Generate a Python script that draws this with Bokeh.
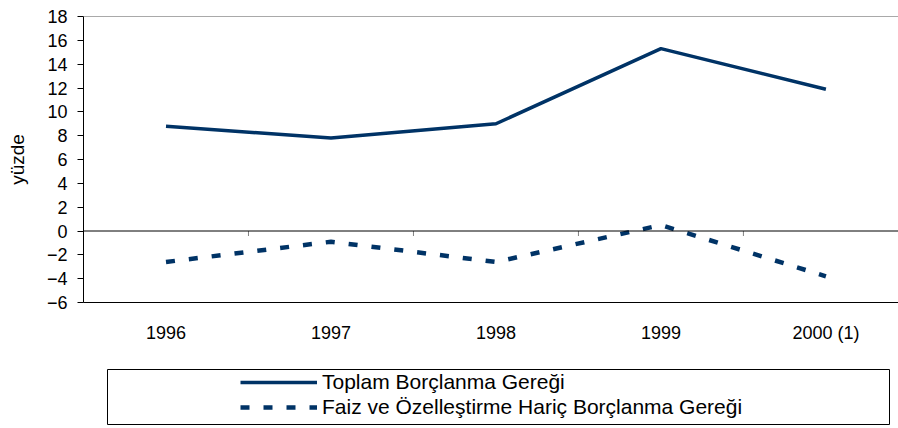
from bokeh.plotting import figure
from bokeh.models import Range1d, FixedTicker, Span, Legend, LegendItem, Spacer
from bokeh.layouts import column, row
from bokeh.embed import file_html
from bokeh.resources import INLINE

years = ["1996", "1997", "1998", "1999", "2000 (1)"]
toplam = [8.8, 7.8, 9.0, 15.3, 11.9]
faiz_haric = [-2.6, -0.9, -2.6, 0.5, -3.8]
y_ticks = [-6, -4, -2, 0, 2, 4, 6, 8, 10, 12, 14, 16, 18]
series_names = ["Toplam Borçlanma Gereği", "Faiz ve Özelleştirme Hariç Borçlanma Gereği"]

NAVY = "#003366"
FONT = "Liberation Sans"
DASH = "9 14"

xs = [i + 0.5 for i in range(len(years))]
bounds = [i for i in range(1, len(years))]

p = figure(width=898, height=369, output_backend="svg", toolbar_location=None,
           x_range=Range1d(0, 4.94), y_range=Range1d(-6, 18),
           min_border_left=83, min_border_right=0, min_border_top=16, min_border_bottom=67)
p.outline_line_color = None
p.xgrid.visible = False
p.ygrid.visible = False
p.background_fill_color = "white"
p.border_fill_color = "white"

# y axis
p.yaxis.ticker = FixedTicker(ticks=y_ticks)
p.yaxis.axis_label = "yüzde"
p.yaxis.axis_label_text_font = FONT
p.yaxis.axis_label_text_font_size = "19px"
p.yaxis.axis_label_text_font_style = "normal"
p.yaxis.axis_label_text_color = "black"
p.yaxis.axis_label_standoff = 16
p.yaxis.major_label_text_font = FONT
p.yaxis.major_label_text_font_size = "18px"
p.yaxis.major_label_text_color = "black"
p.yaxis.major_label_standoff = 10
p.yaxis.major_tick_out = 6
p.yaxis.major_tick_in = 0
p.yaxis.minor_tick_out = 0
p.yaxis.minor_tick_in = 0
p.yaxis.axis_line_color = "black"
p.yaxis.major_tick_line_color = "black"

# x axis (labels at category centres, line = bottom of plot area)
p.xaxis.ticker = FixedTicker(ticks=xs)
p.xaxis.major_label_overrides = {x: y for x, y in zip(xs, years)}
p.xaxis.major_label_text_font = FONT
p.xaxis.major_label_text_font_size = "18px"
p.xaxis.major_label_text_color = "black"
p.xaxis.major_label_standoff = 20
p.xaxis.major_tick_out = 0
p.xaxis.major_tick_in = 0
p.xaxis.minor_tick_out = 0
p.xaxis.minor_tick_in = 0
p.xaxis.axis_line_color = "black"

# top border and zero line
p.add_layout(Span(location=18, dimension="width", line_color="#555555", line_width=1))
p.add_layout(Span(location=0, dimension="width", line_color="black", line_width=1))
# category tick marks on the zero line
p.segment(x0=bounds, y0=[0] * len(bounds), x1=bounds, y1=[-0.42] * len(bounds),
          line_color="#808080", line_width=1)

p.line(xs, toplam, line_color=NAVY, line_width=3.5)
p.line(xs, faiz_haric, line_color=NAVY, line_width=4.5, line_dash=DASH)

# legend box as a separate small figure (its lines lie outside its visible range)
lg = figure(width=783, height=56, output_backend="svg", toolbar_location=None,
            x_range=Range1d(100, 101), y_range=Range1d(100, 101),
            min_border_left=0, min_border_right=0, min_border_top=0, min_border_bottom=0)
lg.axis.visible = False
lg.xgrid.visible = False
lg.ygrid.visible = False
lg.outline_line_color = "black"
lg.outline_line_width = 1
r1 = lg.line(xs, toplam, line_color=NAVY, line_width=3.5)
r2 = lg.line(xs, faiz_haric, line_color=NAVY, line_width=4.5, line_dash=DASH)
leg = Legend(items=[LegendItem(label=series_names[0], renderers=[r1]),
                    LegendItem(label=series_names[1], renderers=[r2])],
             location=(133, 6), padding=0, margin=0, spacing=1,
             glyph_width=77, glyph_height=20, label_height=24, label_standoff=5,
             label_text_font=FONT, label_text_font_size="21px", label_text_color="black",
             border_line_color=None, background_fill_alpha=0)
lg.add_layout(leg, "center")

layout = column(p, row(Spacer(width=107), lg))
open("out.html", "w").write(file_html(layout, INLINE))
